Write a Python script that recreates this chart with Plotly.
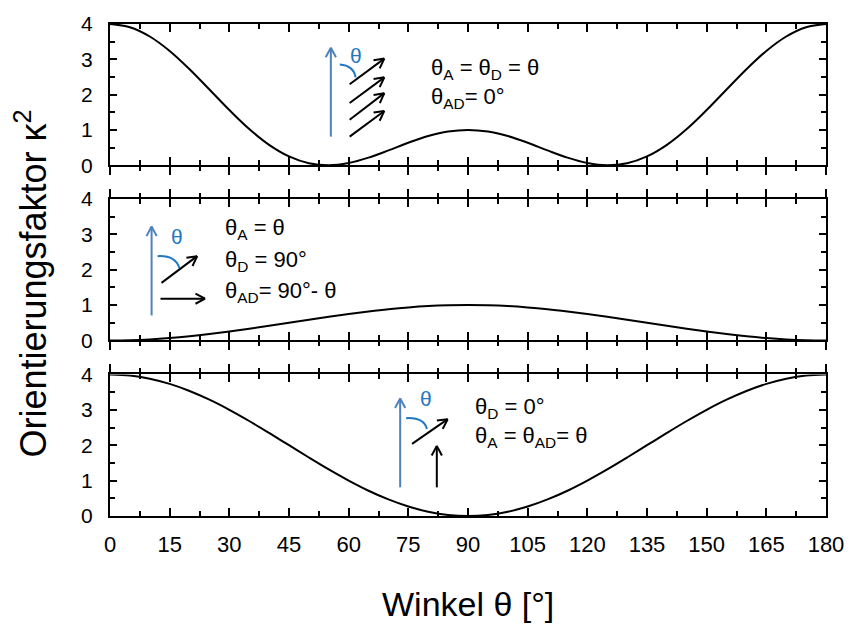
import plotly.graph_objects as go

# ---------------- data ----------------
theta_deg = [0, 5, 10, 15, 20, 25, 30, 35, 40, 45, 50, 55, 60, 65, 70, 75, 80, 85, 90,
             95, 100, 105, 110, 115, 120, 125, 130, 135, 140, 145, 150, 155, 160, 165, 170, 175, 180]

kappa_top = [4.000, 3.909, 3.646, 3.237, 2.719, 2.144, 1.563, 1.026, 0.578, 0.250, 0.057, 0.000,
             0.063, 0.216, 0.421, 0.638, 0.827, 0.955, 1.000,
             0.955, 0.827, 0.638, 0.421, 0.216, 0.063, 0.000, 0.057, 0.250, 0.578, 1.026,
             1.563, 2.144, 2.719, 3.237, 3.646, 3.909, 4.000]

kappa_mid = [0.000, 0.008, 0.030, 0.067, 0.117, 0.179, 0.250, 0.329, 0.413, 0.500, 0.587, 0.671,
             0.750, 0.821, 0.883, 0.933, 0.970, 0.992, 1.000,
             0.992, 0.970, 0.933, 0.883, 0.821, 0.750, 0.671, 0.587, 0.500, 0.413, 0.329,
             0.250, 0.179, 0.117, 0.067, 0.030, 0.008, 0.000]

kappa_bot = [4.000, 3.970, 3.879, 3.732, 3.532, 3.286, 3.000, 2.684, 2.347, 2.000, 1.653, 1.316,
             1.000, 0.714, 0.468, 0.268, 0.121, 0.030, 0.000,
             0.030, 0.121, 0.268, 0.468, 0.714, 1.000, 1.316, 1.653, 2.000, 2.347, 2.684,
             3.000, 3.286, 3.532, 3.732, 3.879, 3.970, 4.000]

x_ticks = [0, 15, 30, 45, 60, 75, 90, 105, 120, 135, 150, 165, 180]
y_ticks = [0, 1, 2, 3, 4]

label_top = ["θ<sub>A</sub> = θ<sub>D</sub> = θ", "θ<sub>AD</sub>= 0°"]
label_mid = ["θ<sub>A</sub> = θ", "θ<sub>D</sub> = 90°", "θ<sub>AD</sub>= 90°- θ"]
label_bot = ["θ<sub>D</sub> = 0°", "θ<sub>A</sub> = θ<sub>AD</sub>= θ"]

# ---------------- layout geometry ----------------
W, H = 856, 630
ML, MR, MT, MB = 110, 23, 18, 114
PX0, PX1, PY0, PY1 = ML, W - MR, MT, H - MB


def px(x):
    return (x - PX0) / (PX1 - PX0)


def py(y):
    return (PY1 - y) / (PY1 - PY0)


FONT = "Liberation Sans, Arial, sans-serif"
BLUE_ARROW = "#4f81bd"
BLUE_TEXT = "#1f78c1"

dom_top = [py(161), 1.0]
dom_mid = [py(338.3), py(195)]
dom_bot = [0.0, py(372.7)]

fig = go.Figure()

for ya, ys in (("y", kappa_top), ("y2", kappa_mid), ("y3", kappa_bot)):
    xa = {"y": "x", "y2": "x2", "y3": "x3"}[ya]
    fig.add_trace(go.Scatter(x=theta_deg, y=ys, mode="lines", xaxis=xa, yaxis=ya,
                             line=dict(color="black", width=2, shape="spline"),
                             hoverinfo="skip", showlegend=False))

# dummy traces so the overlay axes get drawn
for xa, ya in (("x4", "y"), ("x5", "y2"), ("x6", "y3")):
    fig.add_trace(go.Scatter(x=[90], y=[2], mode="markers", xaxis=xa, yaxis=ya,
                             marker=dict(opacity=0), hoverinfo="skip", showlegend=False))


def xmain(anchor, labels):
    return dict(anchor=anchor, range=[0, 180], tickmode="array", tickvals=x_ticks,
                ticks="inside", ticklen=8, tickwidth=2, tickcolor="black",
                mirror="ticks", showline=True, linewidth=2, linecolor="black",
                showgrid=False, zeroline=False, showticklabels=labels,
                tickfont=dict(family=FONT, size=22, color="black"),
                ticklabelstandoff=8,
                minor=dict(ticks="inside", ticklen=5, tickwidth=2, tickcolor="black",
                           dtick=7.5, tick0=0, showgrid=False))


def xover(over, anchor, side, mirror):
    return dict(overlaying=over, anchor=anchor, side=side, range=[0, 180],
                tickmode="array", tickvals=x_ticks,
                ticks="outside", ticklen=9, tickwidth=2, tickcolor="black",
                mirror=mirror, showline=False, showgrid=False, zeroline=False,
                showticklabels=False,
                minor=dict(ticks="outside", ticklen=5, tickwidth=2, tickcolor="black",
                           dtick=7.5, tick0=0, showgrid=False))


def ymain(anchor, dom):
    return dict(anchor=anchor, domain=dom, range=[0, 4], tickmode="array", tickvals=y_ticks,
                ticks="inside", ticklen=7, tickwidth=2, tickcolor="black",
                mirror="ticks", showline=True, linewidth=2, linecolor="black",
                showgrid=False, zeroline=False,
                tickfont=dict(family=FONT, size=21, color="black"),
                ticklabelstandoff=11,
                minor=dict(ticks="inside", ticklen=5, tickwidth=2, tickcolor="black",
                           dtick=0.5, tick0=0, showgrid=False))


shapes = []


def seg(x0, y0, x1, y1, color, w=2):
    shapes.append(dict(type="line", xref="paper", yref="paper",
                       x0=px(x0), y0=py(y0), x1=px(x1), y1=py(y1),
                       line=dict(color=color, width=w)))


def arrow(x0, y0, x1, y1, color, hl=11, ang=28):
    import math
    seg(x0, y0, x1, y1, color)
    dx, dy = x1 - x0, y1 - y0
    L = math.hypot(dx, dy)
    ux, uy = dx / L, dy / L
    for s in (1, -1):
        a = math.radians(ang) * s
        rx = ux * math.cos(a) - uy * math.sin(a)
        ry = ux * math.sin(a) + uy * math.cos(a)
        seg(x1, y1, x1 - hl * rx, y1 - hl * ry, color)


def arc(x0, y0, cx, cy, x1, y1):
    path = "M {} {} Q {} {} {} {}".format(px(x0), py(y0), px(cx), py(cy), px(x1), py(y1))
    shapes.append(dict(type="path", xref="paper", yref="paper", path=path,
                       line=dict(color=BLUE_TEXT, width=2)))


# top panel sketch
arrow(333, 132, 333, 42, BLUE_ARROW)
for (a, b, c, d) in ((352, 79, 387, 53), (352, 98, 387, 72), (352, 115, 387, 88), (352, 132, 387, 106)):
    arrow(a, b, c, d, "black")
arc(342, 59, 356, 60, 358, 72)

# middle panel sketch
arrow(152, 313, 152, 223, BLUE_ARROW)
arrow(162, 280, 198, 253, "black")
arrow(161, 296, 206, 296, "black")
arc(158, 253, 176, 252, 180, 265)

# bottom panel sketch
arrow(403, 487, 403, 397, BLUE_ARROW)
arrow(415, 443, 451, 418, "black")
arrow(440, 487, 440, 445, "black")
arc(409, 417, 427, 416, 430, 428)

annotations = []


def txt(x, y, s, size=22, color="black"):
    annotations.append(dict(text=s, xref="paper", yref="paper", x=px(x), y=py(y),
                            xanchor="left", yanchor="middle", showarrow=False,
                            font=dict(family=FONT, size=size, color=color)))


def ctxt(x, y, s, size=21, color="black", angle=0):
    annotations.append(dict(text=s, xref="paper", yref="paper", x=px(x), y=py(y),
                            xanchor="center", yanchor="middle", showarrow=False,
                            textangle=angle,
                            font=dict(family=FONT, size=size, color=color)))


for i, (yy) in enumerate((64, 93)):
    txt(432, yy, label_top[i])
for i, (yy) in enumerate((226, 258, 289)):
    txt(224, yy, label_mid[i])
for i, (yy) in enumerate((407, 436)):
    txt(477, yy, label_bot[i])

ctxt(358, 50, "θ", color=BLUE_TEXT)
ctxt(178, 233, "θ", color=BLUE_TEXT)
ctxt(429, 397, "θ", color=BLUE_TEXT)

ctxt(472, 605, "Winkel θ [°]", size=34)
ctxt(30, 281, "Orientierungsfaktor κ<sup>2</sup>", size=36, angle=-90)

fig.update_layout(
    width=W, height=H,
    margin=dict(l=ML, r=MR, t=MT, b=MB),
    paper_bgcolor="white", plot_bgcolor="white",
    font=dict(family=FONT, color="black"),
    xaxis=xmain("y", False),
    xaxis2=xmain("y2", False),
    xaxis3=xmain("y3", True),
    xaxis4=xover("x", "y", "bottom", False),
    xaxis5=xover("x2", "y2", "bottom", "ticks"),
    xaxis6=xover("x3", "y3", "top", False),
    yaxis=ymain("x", dom_top),
    yaxis2=ymain("x2", dom_mid),
    yaxis3=ymain("x3", dom_bot),
    shapes=shapes,
    annotations=annotations,
    showlegend=False,
)

fig.write_html("out.html")
